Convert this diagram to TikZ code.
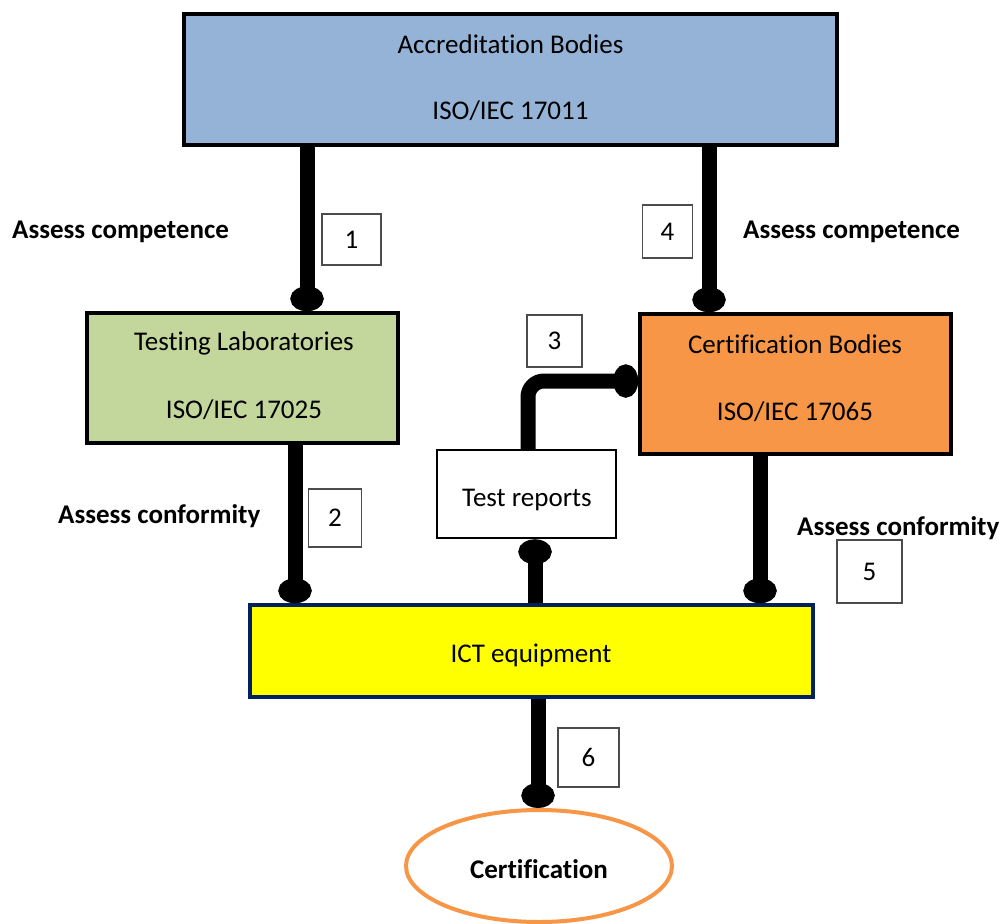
\documentclass[tikz,border=0pt]{standalone}
\usepackage{fontspec}
\setmainfont{Carlito}[Ligatures=NoCommon]
\usetikzlibrary{arrows.meta,shapes.geometric}
\definecolor{accblue}{HTML}{95B3D7}
\definecolor{labgreen}{HTML}{C3D69B}
\definecolor{cborange}{HTML}{F79646}
\definecolor{ictyellow}{HTML}{FFFF00}
\definecolor{ictnavy}{HTML}{002060}
\definecolor{ellorange}{HTML}{F79646}
\begin{document}
\begin{tikzpicture}[x=1pt,y=-1pt,
  font=\fontsize{27}{32}\selectfont,
  box/.style={draw=black, line width=3.5pt, inner sep=0pt},
  txt/.style={inner sep=0pt, text height=18pt, text depth=0pt},
  numbox/.style={draw=black!70, line width=1.3pt, fill=white, inner sep=0pt},
  lbl/.style={font=\fontsize{27}{32}\selectfont\bfseries, anchor=west, inner sep=0pt, text height=18pt, text depth=0pt},
  conn/.style={line width=15pt, -{Circle[length=25pt,width=33pt]}}
]
\useasboundingbox (0,0) rectangle (1005,924);

\node[box, fill=accblue, minimum width=653pt, minimum height=131pt] (acc) at (510.5,79.5) {};
\node[txt] (acc1) at (510.5,44) {Accreditation Bodies};
\node[txt] (acc2) at (510.5,110) {ISO/IEC 17011};

\node[box, fill=labgreen, minimum width=311pt, minimum height=130pt] (lab) at (242.5,378) {};
\node[txt] (lab1) at (244,341) {Testing Laboratories};
\node[txt] (lab2) at (244,409) {ISO/IEC 17025};

\node[box, fill=cborange, minimum width=311pt, minimum height=140pt] (cb) at (795.5,384) {};
\node[txt] (cb1) at (795,344) {Certification Bodies};
\node[txt] (cb2) at (795,411) {ISO/IEC 17065};

\node[box, fill=white, line width=2.5pt, minimum width=179pt, minimum height=88pt] (tr) at (526.5,494) {};
\node[txt] (tr1) at (527,497) {Test reports};

\node[box, draw=ictnavy, fill=ictyellow, minimum width=563pt, minimum height=92pt] (ict) at (531.5,651) {};
\node[txt] (ict1) at (531,653) {ICT equipment};

\node[ellipse, draw=ellorange, line width=4pt, fill=white, inner sep=0pt,
  minimum width=266pt, minimum height=112pt] (cert) at (539,866) {};
\node[txt, font=\fontsize{27}{32}\selectfont\bfseries] (cert1) at (539,869) {Certification};

\coordinate (x1) at (307,0);
\coordinate (x4) at (709,0);
\coordinate (x2) at (295,0);
\coordinate (x5) at (760,0);
\coordinate (xu) at (535,0);
\coordinate (x3) at (528,0);
\coordinate (y3) at (0,381);
\coordinate (x6) at (538,0);

\draw[conn] (acc.south -| x1) -- (lab.north -| x1);
\draw[conn] (acc.south -| x4) -- (cb.north -| x4);
\draw[conn] (lab.south -| x2) -- (ict.north -| x2);
\draw[conn] (cb.south -| x5) -- (ict.north -| x5);
\draw[conn] (ict.north -| xu) -- (tr.south -| xu);
\draw[conn, rounded corners=16pt] (tr.north -| x3) |- (cb.west |- y3);
\draw[conn] (ict.south -| x6) -- (cert.north -| x6);

\node[numbox, minimum width=59pt, minimum height=51pt] (n1) at (351.5,239.5) {1};
\node[numbox, minimum width=53pt, minimum height=58pt] (n2) at (335,518) {2};
\node[numbox, minimum width=55pt, minimum height=52pt] (n3) at (554.5,341) {3};
\node[numbox, minimum width=50pt, minimum height=53pt] (n4) at (667.5,231.5) {4};
\node[numbox, minimum width=65pt, minimum height=63pt] (n5) at (869.5,571.5) {5};
\node[numbox, minimum width=61pt, minimum height=59pt] (n6) at (588.5,757.5) {6};

\node[lbl] (l1) at (12,229) {Assess competence};
\node[lbl] (l4) at (743,229) {Assess competence};
\node[lbl] (l2) at (58,514) {Assess conformity};
\node[lbl] (l5) at (797,526) {Assess conformity};
\end{tikzpicture}
\end{document}
